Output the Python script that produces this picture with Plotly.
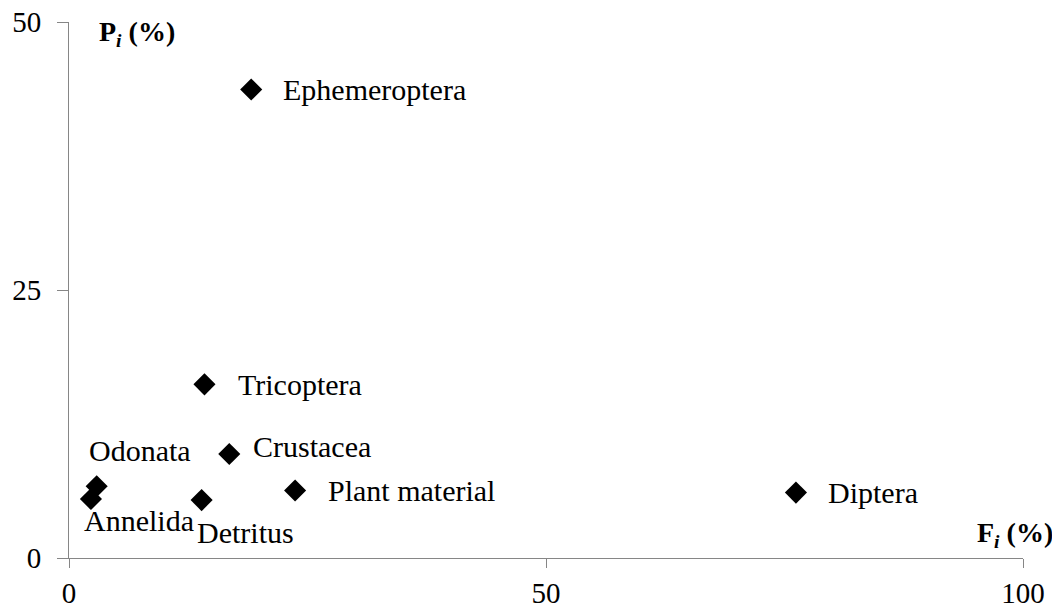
import plotly.graph_objects as go

# Data
categories = ["Ephemeroptera", "Tricoptera", "Crustacea", "Odonata", "Annelida",
              "Detritus", "Plant material", "Diptera"]
fi_values = [19.1, 14.2, 16.8, 2.9, 2.3, 13.9, 23.7, 76.2]   # F_i (%)
pi_values = [43.7, 16.2, 9.7, 6.7, 5.5, 5.4, 6.3, 6.1]       # P_i (%)
x_ticks = [0, 50, 100]
y_ticks = [0, 25, 50]

# Label placement (style only): xanchor, xshift, yshift
label_style = {
    "Ephemeroptera": ("left", 30, 0),
    "Tricoptera": ("left", 32, 0),
    "Crustacea": ("left", 22, 8),
    "Odonata": ("center", 43, 36),
    "Annelida": ("center", 48, -21),
    "Detritus": ("center", 44, -32),
    "Plant material": ("left", 31, 0),
    "Diptera": ("left", 30, 0),
}

FONT = "Liberation Serif, Times New Roman, serif"

fig = go.Figure()
fig.add_trace(go.Scatter(
    x=fi_values, y=pi_values, mode="markers",
    marker=dict(symbol="diamond", size=17, color="black"),
    hoverinfo="text", text=categories, showlegend=False,
))

for name, fx, py in zip(categories, fi_values, pi_values):
    anchor, xs, ys = label_style[name]
    fig.add_annotation(x=fx, y=py, xref="x", yref="y", text=name, showarrow=False,
                       xanchor=anchor, yanchor="middle", xshift=xs, yshift=ys,
                       font=dict(family=FONT, size=30, color="black"))

fig.add_annotation(x=0.0294, y=0.979, xref="paper", yref="paper",
                   text="<b>P<sub><i>i</i></sub> (%)</b>", showarrow=False,
                   xanchor="left", yanchor="middle",
                   font=dict(family=FONT, size=28, color="black"))
fig.add_annotation(x=1.0335, y=0.043, xref="paper", yref="paper",
                   text="<b>F<sub><i>i</i></sub> (%)</b>", showarrow=False,
                   xanchor="right", yanchor="middle",
                   font=dict(family=FONT, size=28, color="black"))

axis_common = dict(showgrid=False, zeroline=False, showline=True, linecolor="#868686",
                   linewidth=1, ticks="outside", tickcolor="#868686",
                   automargin=False, ticklabeloverflow="allow")

fig.update_xaxes(range=[0, 100], tickvals=x_ticks, ticklabelstandoff=0, ticklen=9,
                 tickfont=dict(family=FONT, size=29, color="black"), **axis_common)
fig.update_yaxes(range=[0, 50], tickvals=y_ticks, ticklabelstandoff=10, ticklen=11,
                 tickfont=dict(family=FONT, size=29, color="black"), **axis_common)

# page body has an 8px margin, so the figure is drawn 8px in from the top-left
fig.update_layout(
    width=1052, height=600,
    margin=dict(l=61, r=37, t=14, b=50),
    plot_bgcolor="white", paper_bgcolor="white",
)

fig.write_html("out.html")
